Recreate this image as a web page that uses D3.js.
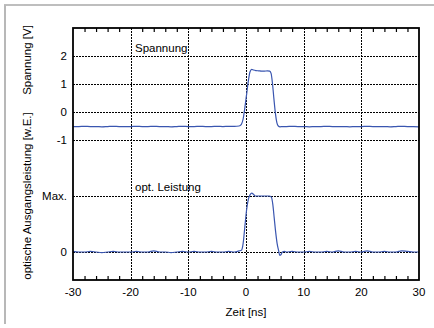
<!DOCTYPE html>
<html>
<head>
<meta charset="utf-8">
<script src="https://cdn.jsdelivr.net/npm/d3@7"></script>
<style>
    body { margin: 0; background: #fff; }
    svg text { font-family: "Liberation Sans", Arial, sans-serif; fill: #000; }
</style>
</head>
<body>
<svg id="chart" width="434" height="328"></svg>
<script>
"use strict";

// time axis [ns]
var xTicks = [-30, -20, -10, 0, 10, 20, 30];

// voltage axis [V]
var voltTicks = [-1, 0, 1, 2];

// optical power axis [w.E.], 1 = Max.
var optTicks = [0, 1];
var optTickLabels = ["0", "Max."];

// voltage trace: time [ns] and value [V]
var voltTime = [-30, -29, -28, -27, -26, -25, -24, -23, -22, -21, -20, -19, -18, -17, -16, -15, -14, -13, -12, -11, -10, -9, -8, -7, -6, -5, -4, -3, -2, -1.2,
    -0.8, -0.5, -0.2, 0.1, 0.4, 0.7, 1.0, 1.3, 1.7, 2.2, 2.7, 3.2, 3.7, 4.1, 4.35, 4.6, 4.85, 5.1, 5.35, 5.6, 5.9, 6.3,
    7, 8, 9, 10, 11, 12, 13, 14, 15, 16, 17, 18, 19, 20, 21, 22, 23, 24, 25, 26, 27, 28, 29, 30];
var voltValue = [-0.52, -0.52, -0.51, -0.52, -0.52, -0.53, -0.52, -0.51, -0.52, -0.52, -0.52, -0.51, -0.52, -0.52, -0.51, -0.52, -0.52, -0.53, -0.52, -0.51, -0.52, -0.52, -0.51, -0.52, -0.52, -0.51, -0.52, -0.51, -0.51, -0.5,
    -0.44, -0.25, 0.15, 0.62, 1.1, 1.44, 1.52, 1.5, 1.48, 1.47, 1.46, 1.46, 1.47, 1.46, 1.38, 1.0, 0.45, -0.05, -0.38, -0.5, -0.53, -0.52,
    -0.52, -0.51, -0.52, -0.52, -0.53, -0.52, -0.52, -0.51, -0.52, -0.52, -0.52, -0.53, -0.52, -0.52, -0.51, -0.52, -0.52, -0.52, -0.53, -0.52, -0.51, -0.52, -0.52, -0.53];

// optical power trace: time [ns] and value [w.E.]
var optTime = [-30, -29, -28, -27, -26, -25, -24, -23, -22, -21, -20, -19, -18, -17, -16, -15, -14, -13, -12, -11, -10, -9, -8, -7, -6, -5, -4, -3, -2, -1.2,
    -0.8, -0.5, -0.2, 0.1, 0.4, 0.7, 1.0, 1.3, 1.6, 2.0, 2.5, 3.0, 3.5, 4.0, 4.4, 4.65, 4.9, 5.15, 5.4, 5.65, 5.85, 6.05, 6.3, 6.7,
    7, 8, 9, 10, 11, 12, 13, 14, 15, 16, 17, 18, 19, 20, 21, 22, 23, 24, 25, 26, 27, 28, 29, 30];
var optValue = [0.01, 0.0, 0.0, 0.01, 0.0, -0.01, 0.0, 0.01, 0.0, 0.0, 0.0, 0.01, 0.0, 0.0, 0.02, 0.0, 0.0, -0.01, 0.0, 0.01, 0.0, 0.01, 0.0, 0.0, 0.01, 0.0, 0.0, 0.01, 0.0, 0.02,
    0.03, 0.15, 0.45, 0.75, 0.94, 1.02, 1.05, 1.03, 1.0, 1.0, 1.0, 1.0, 1.0, 1.0, 0.98, 0.85, 0.6, 0.35, 0.15, 0.03, -0.06, -0.05, 0.0, 0.01,
    0.0, 0.01, 0.0, 0.0, 0.01, 0.0, 0.0, 0.01, 0.0, 0.02, 0.0, 0.0, 0.01, 0.0, 0.02, 0.0, 0.0, 0.01, 0.0, 0.0, 0.02, 0.01, 0.0, 0.0];

var svg = d3.select("#chart");

// plot area
var plotL = 73, plotR = 419, plotT = 28, plotB = 280;

var xScale = d3.scaleLinear().domain([-30, 30]).range([plotL, plotR]);
var yVolt = d3.scaleLinear().domain([-6, 3]).range([plotB, plotT]);
var yOpt = d3.scaleLinear().domain([-0.5, 4]).range([plotB, plotT]);

// outer frame (only top and left edges are visible)
svg.append("line").attr("x1", 4).attr("x2", 434).attr("y1", 5).attr("y2", 5)
    .attr("stroke", "#a8a8a8").attr("stroke-width", 1.5);
svg.append("line").attr("x1", 5).attr("x2", 5).attr("y1", 5).attr("y2", 324)
    .attr("stroke", "#b8b8b8").attr("stroke-width", 2);

// grid lines
var grid = svg.append("g").attr("stroke", "#000").attr("stroke-width", 1)
    .attr("stroke-dasharray", "2,1").attr("shape-rendering", "crispEdges");
grid.selectAll(".vgrid").data(xTicks.slice(1, -1)).enter().append("line")
    .attr("x1", d => Math.round(xScale(d)) + 0.5).attr("x2", d => Math.round(xScale(d)) + 0.5)
    .attr("y1", plotT).attr("y2", plotB);
grid.selectAll(".hv").data(voltTicks).enter().append("line")
    .attr("x1", plotL).attr("x2", plotR)
    .attr("y1", d => yVolt(d) + 0.5).attr("y2", d => yVolt(d) + 0.5);
grid.selectAll(".ho").data(optTicks).enter().append("line")
    .attr("x1", plotL).attr("x2", plotR)
    .attr("y1", d => yOpt(d) + 0.5).attr("y2", d => yOpt(d) + 0.5);

// minor ticks on bottom and top edges
var minor = d3.range(-28, 30, 2).filter(d => d % 10 !== 0);
var xAxisBottom = d3.axisBottom(xScale).tickValues(minor).tickSize(-4).tickFormat("");
var xAxisTop = d3.axisTop(xScale).tickValues(minor).tickSize(-4).tickFormat("");
svg.append("g").attr("transform", "translate(0," + plotB + ")").call(xAxisBottom)
    .call(g => g.select(".domain").remove())
    .selectAll("line").attr("stroke", "#000").attr("stroke-width", 1.2);
svg.append("g").attr("transform", "translate(0," + plotT + ")").call(xAxisTop)
    .call(g => g.select(".domain").remove())
    .selectAll("line").attr("stroke", "#000").attr("stroke-width", 1.2);

// traces
var line = d3.line().x(d => xScale(d[0])).y(d => d[1]).curve(d3.curveMonotoneX);
var voltPts = voltTime.map((t, i) => [t, yVolt(voltValue[i])]);
var optPts = optTime.map((t, i) => [t, yOpt(optValue[i])]);

svg.append("path").attr("d", line(voltPts))
    .attr("fill", "none").attr("stroke", "#3a56b0").attr("stroke-width", 1.2);
svg.append("path").attr("d", line(optPts))
    .attr("fill", "none").attr("stroke", "#3a56b0").attr("stroke-width", 1.2);

// plot border
svg.append("rect").attr("x", plotL).attr("y", plotT)
    .attr("width", plotR - plotL).attr("height", plotB - plotT)
    .attr("fill", "none").attr("stroke", "#000").attr("stroke-width", 1.8);

// tick labels
svg.selectAll(".xlab").data(xTicks).enter().append("text")
    .attr("x", d => xScale(d)).attr("y", 296)
    .attr("text-anchor", "middle").attr("font-size", 11.5)
    .text(d => d);
svg.selectAll(".vlab").data(voltTicks).enter().append("text")
    .attr("x", 67).attr("y", d => yVolt(d) + 4)
    .attr("text-anchor", "end").attr("font-size", 11.5)
    .text(d => d);
svg.selectAll(".olab").data(optTicks).enter().append("text")
    .attr("x", 67).attr("y", d => yOpt(d) + 4)
    .attr("text-anchor", "end").attr("font-size", 11.5)
    .text((d, i) => optTickLabels[i]);

// in-plot labels
svg.append("text").attr("x", 135).attr("y", 52).attr("font-size", 11.5).text("Spannung");
svg.append("text").attr("x", 135).attr("y", 191).attr("font-size", 11.5).text("opt. Leistung");

// axis titles
svg.append("text").attr("x", 246).attr("y", 316).attr("text-anchor", "middle")
    .attr("font-size", 11.5).text("Zeit [ns]");
svg.append("text").attr("transform", "translate(31,60) rotate(-90)")
    .attr("text-anchor", "middle").attr("font-size", 11.5).text("Spannung [V]");
svg.append("text").attr("transform", "translate(31,196) rotate(-90)")
    .attr("text-anchor", "middle").attr("font-size", 11.5).text("optische Ausgangsleistung [w.E.]");
</script>
</body>
</html>
